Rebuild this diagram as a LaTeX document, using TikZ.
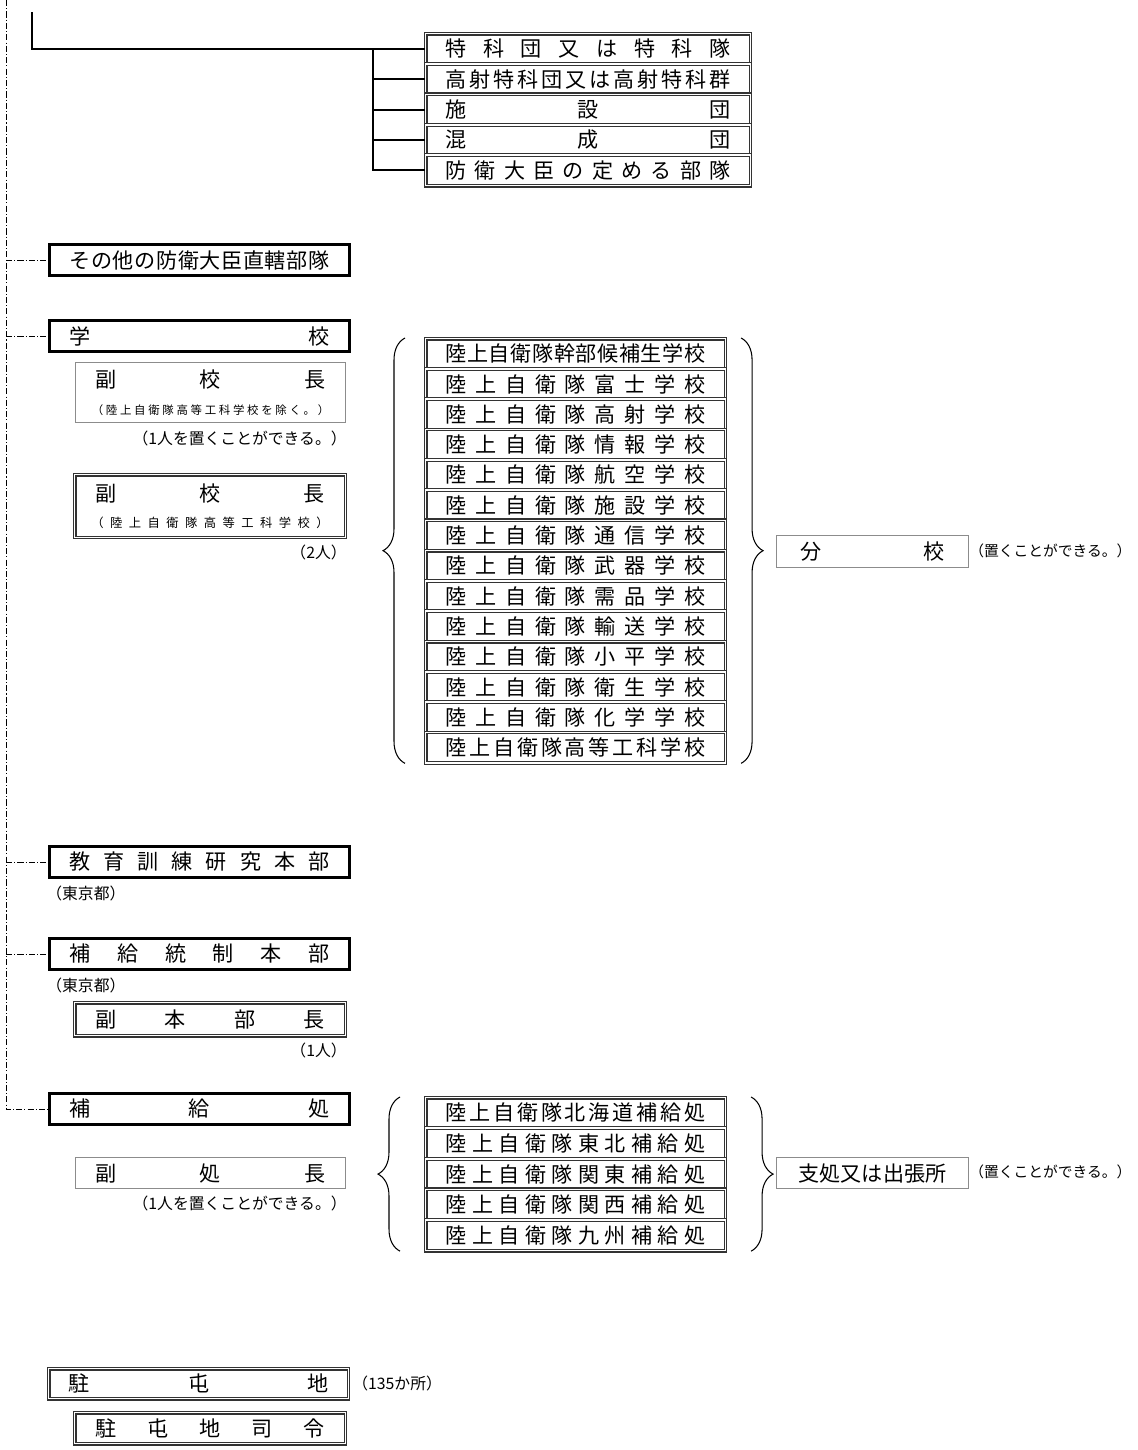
\documentclass[tikz,border=0pt]{standalone}
\usepackage{fontspec}
\setmainfont{Noto Sans CJK JP}
\usetikzlibrary{decorations.pathreplacing}

\def\spreadi#1#2\spreadend{#1\ifx\relax#2\relax\else\hfill\spreadi#2\spreadend\fi}
\newcommand{\spread}[2]{\makebox[#1][s]{\spreadi#2\spreadend}}

\begin{document}
\begin{tikzpicture}[x=0.02cm,y=-0.02cm,
  box/.style={inner sep=0pt,anchor=north west,font=\fontsize{12}{14}\selectfont},
  tbox/.style={box,draw,line width=1.7pt,minimum width=6cm,minimum height=0.62cm},
  dbox/.style={box,draw=black!80,line width=0.65pt,double=white,double distance=0.9pt},
  gbox/.style={box,draw=black!45,line width=0.6pt},
  note/.style={inner sep=0pt,font=\fontsize{9}{11}\selectfont},
  rnote/.style={inner sep=0pt,anchor=west,font=\fontsize{8.4}{10}\selectfont},
  link/.style={line width=1.2pt},
  dd/.style={line width=0.5pt,dash pattern=on 3.5pt off 1.2pt on 0.6pt off 1.2pt},
  brc/.style={line width=0.6pt,decorate,decoration={brace,amplitude=0.44cm}}]
\useasboundingbox (0,0) rectangle (1137,1450);

% top group
\coordinate (top) at (32,12);
\coordinate (br) at (373,48);
\node [dbox,minimum width=6.5cm,minimum height=0.608cm] (g1) at (425,33) {\spread{5.7cm}{特科団又は特科隊}};
\node [dbox,minimum width=6.5cm,minimum height=0.608cm] (g2) at (425,63.4) {\spread{5.7cm}{高射特科団又は高射特科群}};
\node [dbox,minimum width=6.5cm,minimum height=0.608cm] (g3) at (425,93.8) {\spread{5.7cm}{施設団}};
\node [dbox,minimum width=6.5cm,minimum height=0.608cm] (g4) at (425,124.2) {\spread{5.7cm}{混成団}};
\node [dbox,minimum width=6.5cm,minimum height=0.608cm] (g5) at (425,154.6) {\spread{5.7cm}{防衛大臣の定める部隊}};
\draw [link] (top) |- (g1);
\draw [link] (br) |- (g5);
\draw [link] (br |- g2) -- (g2);
\draw [link] (br |- g3) -- (g3);
\draw [link] (br |- g4) -- (g4);

% left column
\node [tbox] (other) at (48,243) {\spread{5.2cm}{その他の防衛大臣直轄部隊}};
\node [tbox] (school) at (48,319) {\spread{5.2cm}{学校}};
\node [gbox,minimum width=5.4cm,minimum height=1.2cm,align=center] (vp1) at (75,362)
  {\spread{4.6cm}{副校長}\\[1pt]{\fontsize{6.5}{8}\selectfont\spread{4.75cm}{（陸上自衛隊高等工科学校を除く。）}}};
\node [note,anchor=east] (n1) at (347,438) {（1人を置くことができる。）};
\node [dbox,minimum width=5.42cm,minimum height=1.26cm,align=center] (vp2) at (74,474)
  {\spread{4.6cm}{副校長}\\[1pt]{\fontsize{7}{8}\selectfont\spread{4.75cm}{（陸上自衛隊高等工科学校）}}};
\node [note,anchor=east] (n2) at (347,552) {（2人）};

\node [tbox] (edu) at (48,845) {\spread{5.2cm}{教育訓練研究本部}};
\node [note,anchor=west] (n3) at (46,893) {（東京都）};
\node [tbox] (supc) at (48,937) {\spread{5.2cm}{補給統制本部}};
\node [note,anchor=west] (n4) at (46,985) {（東京都）};
\node [dbox,minimum width=5.42cm,minimum height=0.66cm] (vhq) at (74,1002) {\spread{4.6cm}{副本部長}};
\node [note,anchor=east] (n5) at (347,1050) {（1人）};

\node [tbox] (sup) at (48,1092) {\spread{5.2cm}{補給処}};
\node [gbox,minimum width=5.4cm,minimum height=0.62cm] (vsup) at (75,1157) {\spread{4.6cm}{副処長}};
\node [note,anchor=east] (n6) at (347,1203) {（1人を置くことができる。）};

\node [dbox,minimum width=6cm,minimum height=0.6cm] (camp) at (48,1368) {\spread{5.2cm}{駐屯地}};
\node [note,anchor=west] (n7) at (352,1383) {（135か所）};
\node [dbox,minimum width=5.42cm,minimum height=0.62cm] (cmd) at (74,1412) {\spread{4.6cm}{駐屯地司令}};

% dash-dot trunk
\coordinate (dtop) at (6,0);
\draw [dd] (dtop) |- (sup);
\draw [dd] (dtop |- other) -- (other);
\draw [dd] (dtop |- school) -- (school);
\draw [dd] (dtop |- edu) -- (edu);
\draw [dd] (dtop |- supc) -- (supc);

% schools
\node [dbox,minimum width=6cm,minimum height=0.606cm] (s1) at (425,338) {\spread{5.2cm}{陸上自衛隊幹部候補生学校}};
\node [dbox,minimum width=6cm,minimum height=0.606cm] (s2) at (425,368.3) {\spread{5.2cm}{陸上自衛隊富士学校}};
\node [dbox,minimum width=6cm,minimum height=0.606cm] (s3) at (425,398.6) {\spread{5.2cm}{陸上自衛隊高射学校}};
\node [dbox,minimum width=6cm,minimum height=0.606cm] (s4) at (425,428.9) {\spread{5.2cm}{陸上自衛隊情報学校}};
\node [dbox,minimum width=6cm,minimum height=0.606cm] (s5) at (425,459.2) {\spread{5.2cm}{陸上自衛隊航空学校}};
\node [dbox,minimum width=6cm,minimum height=0.606cm] (s6) at (425,489.5) {\spread{5.2cm}{陸上自衛隊施設学校}};
\node [dbox,minimum width=6cm,minimum height=0.606cm] (s7) at (425,519.8) {\spread{5.2cm}{陸上自衛隊通信学校}};
\node [dbox,minimum width=6cm,minimum height=0.606cm] (s8) at (425,550.1) {\spread{5.2cm}{陸上自衛隊武器学校}};
\node [dbox,minimum width=6cm,minimum height=0.606cm] (s9) at (425,580.4) {\spread{5.2cm}{陸上自衛隊需品学校}};
\node [dbox,minimum width=6cm,minimum height=0.606cm] (s10) at (425,610.7) {\spread{5.2cm}{陸上自衛隊輸送学校}};
\node [dbox,minimum width=6cm,minimum height=0.606cm] (s11) at (425,641) {\spread{5.2cm}{陸上自衛隊小平学校}};
\node [dbox,minimum width=6cm,minimum height=0.606cm] (s12) at (425,671.3) {\spread{5.2cm}{陸上自衛隊衛生学校}};
\node [dbox,minimum width=6cm,minimum height=0.606cm] (s13) at (425,701.6) {\spread{5.2cm}{陸上自衛隊化学学校}};
\node [dbox,minimum width=6cm,minimum height=0.606cm] (s14) at (425,731.9) {\spread{5.2cm}{陸上自衛隊高等工科学校}};
\draw [brc] ([xshift=-0.4cm]s14.south west) -- ([xshift=-0.4cm]s1.north west);
\draw [brc] ([xshift=0.3cm]s1.north east) -- ([xshift=0.3cm]s14.south east);
\node [gbox,minimum width=3.84cm,minimum height=0.64cm] (branch) at (776,535) {\spread{2.9cm}{分校}};
\node [rnote] (n8) at (969,551) {（置くことができる。）};

% depots
\node [dbox,minimum width=6cm,minimum height=0.612cm] (h1) at (425,1097) {\spread{5.2cm}{陸上自衛隊北海道補給処}};
\node [dbox,minimum width=6cm,minimum height=0.612cm] (h2) at (425,1127.6) {\spread{5.2cm}{陸上自衛隊東北補給処}};
\node [dbox,minimum width=6cm,minimum height=0.612cm] (h3) at (425,1158.2) {\spread{5.2cm}{陸上自衛隊関東補給処}};
\node [dbox,minimum width=6cm,minimum height=0.612cm] (h4) at (425,1188.8) {\spread{5.2cm}{陸上自衛隊関西補給処}};
\node [dbox,minimum width=6cm,minimum height=0.612cm] (h5) at (425,1219.4) {\spread{5.2cm}{陸上自衛隊九州補給処}};
\draw [brc] ([xshift=-0.5cm]h5.south west) -- ([xshift=-0.5cm]h1.north west);
\draw [brc] ([xshift=0.5cm]h1.north east) -- ([xshift=0.5cm]h5.south east);
\node [gbox,minimum width=3.84cm,minimum height=0.62cm] (depot) at (776,1157) {支処又は出張所};
\node [rnote] (n9) at (969,1172) {（置くことができる。）};
\end{tikzpicture}
\end{document}
